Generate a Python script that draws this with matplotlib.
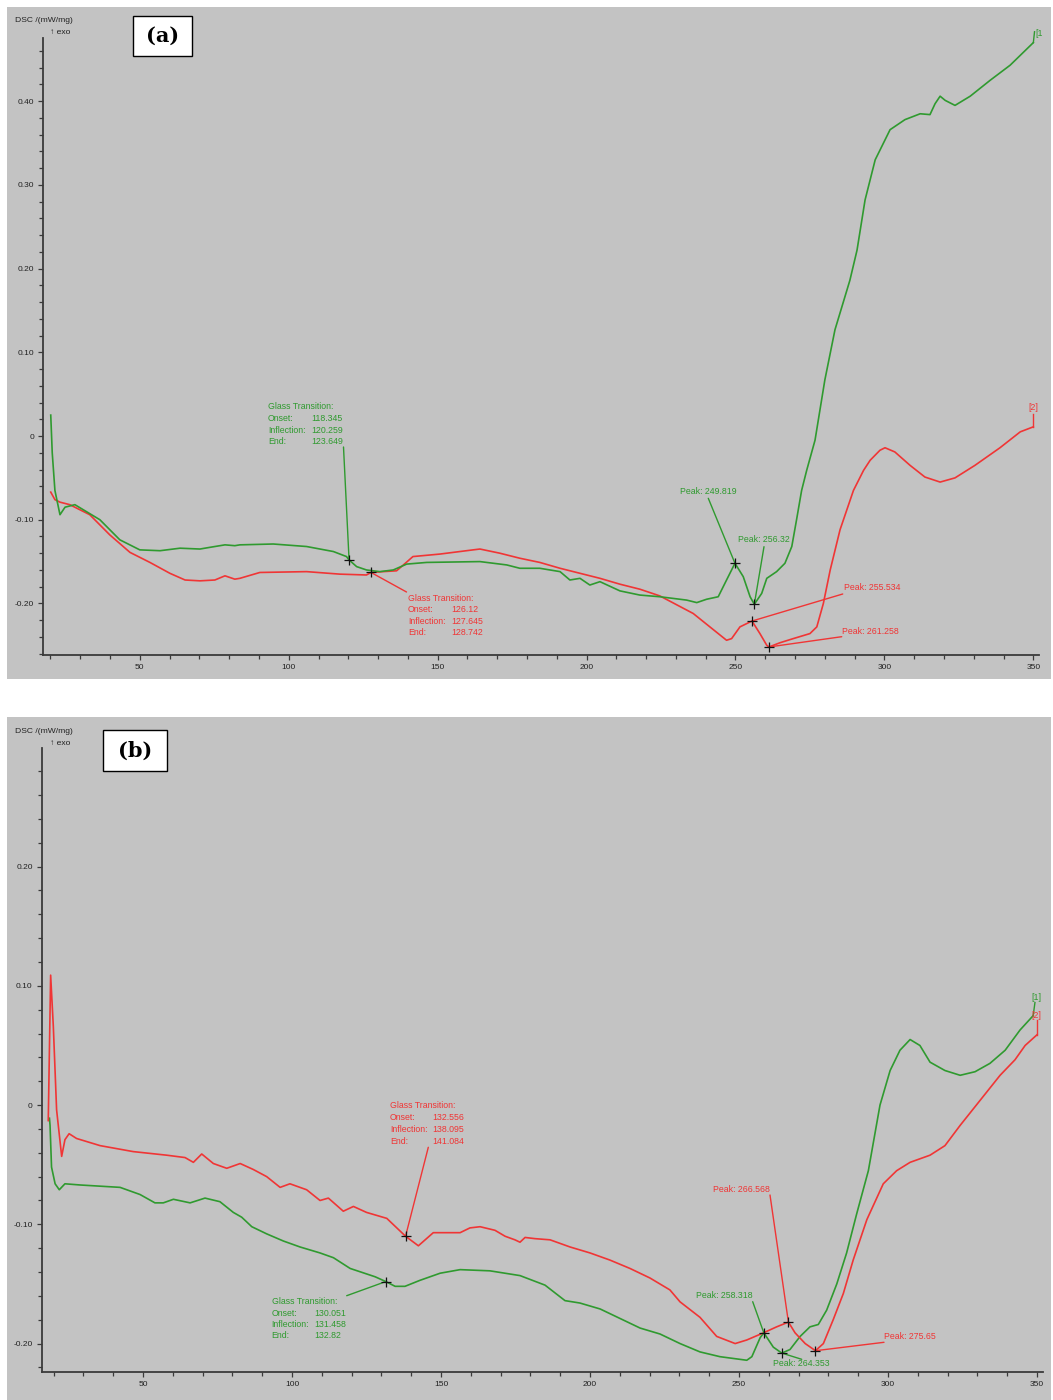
import numpy as np
import matplotlib
matplotlib.use("Agg")
import matplotlib.pyplot as plt
from matplotlib.patches import Rectangle
from matplotlib.transforms import IdentityTransform
from matplotlib.ticker import MultipleLocator, FuncFormatter

plt.rcParams['font.family'] = ['Liberation Sans', 'DejaVu Sans']

# ---------------- data: panel (a) ----------------
a_green_T = [20.1, 20.6, 21.5, 23.2, 24.9, 28.2, 36.6, 43.3, 50.0, 56.8, 63.5, 70.2,
             73.5, 78.6, 81.9, 83.6, 94.8, 106.0, 115.0, 119.4, 120.26, 122.8, 126.1,
             130.6, 135.1, 139.6, 146.3, 164.2, 173.2, 177.6, 184.3, 191.1, 194.4,
             197.8, 201.1, 204.5, 211.2, 217.9, 224.6, 233.6, 237.0, 240.3, 244.2,
             247.0, 249.82, 252.6, 254.9, 256.32, 258.8, 260.5, 263.8, 266.6, 268.9,
             270.5, 272.2, 273.9, 276.7, 280.0, 283.4, 288.4, 290.8, 293.5, 296.9,
             301.9, 306.9, 312.0, 315.3, 317.0, 318.7, 320.4, 323.7, 328.8, 335.5,
             342.2, 350.0]
a_green_dsc = [0.025, -0.020, -0.065, -0.094, -0.085, -0.082, -0.100, -0.124, -0.136,
               -0.137, -0.134, -0.135, -0.133, -0.130, -0.131, -0.130, -0.129, -0.132,
               -0.138, -0.144, -0.148, -0.156, -0.160, -0.162, -0.160, -0.153, -0.151,
               -0.150, -0.154, -0.158, -0.158, -0.162, -0.172, -0.170, -0.178, -0.174,
               -0.185, -0.190, -0.192, -0.196, -0.199, -0.195, -0.192, -0.172, -0.152,
               -0.168, -0.192, -0.201, -0.188, -0.170, -0.162, -0.152, -0.132, -0.100,
               -0.065, -0.041, -0.005, 0.067, 0.127, 0.186, 0.222, 0.282, 0.330, 0.366,
               0.378, 0.385, 0.384, 0.397, 0.406, 0.401, 0.395, 0.406, 0.425, 0.443,
               0.470]

a_red_T = [20.1, 21.5, 23.2, 26.5, 33.2, 39.9, 46.7, 53.4, 60.1, 65.2, 70.2, 75.2,
           78.6, 81.9, 83.6, 90.3, 106.0, 117.2, 126.1, 127.65, 131.7, 136.2, 138.5,
           141.7, 150.8, 161.9, 164.2, 170.9, 177.6, 184.3, 191.1, 197.8, 204.5, 211.2,
           217.9, 224.6, 235.8, 241.4, 247.0, 248.7, 251.5, 255.53, 258.2, 260.5,
           261.26, 264.9, 269.4, 275.0, 277.3, 279.5, 281.8, 285.1, 289.6, 293.0,
           295.2, 298.5, 300.2, 303.5, 308.6, 313.6, 318.7, 323.7, 330.4, 338.8,
           345.6, 350.0]
a_red_dsc = [-0.067, -0.076, -0.079, -0.082, -0.094, -0.118, -0.139, -0.151, -0.164,
             -0.172, -0.173, -0.172, -0.167, -0.171, -0.170, -0.163, -0.162, -0.165,
             -0.166, -0.163, -0.162, -0.161, -0.154, -0.144, -0.141, -0.136, -0.135,
             -0.140, -0.146, -0.151, -0.158, -0.164, -0.170, -0.177, -0.183, -0.191,
             -0.212, -0.228, -0.244, -0.242, -0.228, -0.221, -0.236, -0.250, -0.252,
             -0.247, -0.242, -0.236, -0.228, -0.200, -0.160, -0.112, -0.065, -0.041,
             -0.029, -0.017, -0.014, -0.019, -0.035, -0.049, -0.055, -0.050, -0.035,
             -0.014, 0.005, 0.011]

# ---------------- data: panel (b) ----------------
b_green_T = [18.6, 18.8, 19.3, 20.5, 21.9, 23.8, 28.9, 35.6, 42.3, 49.0, 54.0, 56.8,
             60.2, 65.8, 70.8, 75.8, 80.3, 83.1, 86.5, 91.5, 97.1, 102.7, 109.4, 113.9,
             119.5, 127.9, 131.46, 134.6, 137.9, 142.9, 149.7, 156.4, 166.4, 176.5,
             184.9, 191.6, 196.6, 203.4, 210.1, 216.8, 223.5, 230.2, 236.9, 243.6,
             252.6, 254.3, 257.1, 258.32, 261.5, 264.35, 267.1, 270.5, 273.8, 276.6,
             279.4, 282.8, 286.1, 289.5, 293.4, 297.3, 300.7, 304.0, 307.4, 310.7,
             314.1, 319.1, 324.2, 329.2, 334.2, 339.3, 344.3, 348.7]
b_green_dsc = [-0.011, -0.017, -0.052, -0.066, -0.071, -0.066, -0.067, -0.068, -0.069,
               -0.075, -0.082, -0.082, -0.079, -0.082, -0.078, -0.081, -0.090, -0.094,
               -0.102, -0.108, -0.114, -0.119, -0.124, -0.128, -0.137, -0.144, -0.148,
               -0.152, -0.152, -0.147, -0.141, -0.138, -0.139, -0.143, -0.151, -0.164,
               -0.166, -0.171, -0.179, -0.187, -0.192, -0.200, -0.207, -0.211, -0.214,
               -0.211, -0.195, -0.191, -0.203, -0.208, -0.205, -0.194, -0.186, -0.184,
               -0.172, -0.150, -0.124, -0.091, -0.055, 0.000, 0.029, 0.046, 0.055,
               0.050, 0.036, 0.029, 0.025, 0.028, 0.035, 0.046, 0.063, 0.075]

b_red_T = [18.2, 19.0, 19.9, 21.0, 22.7, 23.8, 25.2, 27.7, 35.6, 46.7, 57.9, 64.1,
           66.9, 69.7, 73.6, 78.1, 82.6, 87.0, 91.5, 96.0, 99.3, 104.9, 109.4, 112.2,
           117.2, 120.6, 125.0, 131.8, 138.1, 142.4, 147.4, 156.4, 159.7, 163.1, 168.1,
           171.5, 174.8, 176.5, 178.2, 181.5, 186.6, 193.3, 200.0, 206.7, 213.4, 220.1,
           226.8, 230.2, 236.9, 242.5, 248.7, 252.6, 258.2, 262.6, 266.57, 268.8,
           272.2, 275.65, 278.3, 281.6, 285.0, 288.3, 292.9, 298.4, 302.9, 307.4,
           314.1, 319.1, 324.2, 330.9, 337.6, 342.6, 346.0, 350.0]
b_red_dsc = [-0.013, 0.109, 0.066, -0.004, -0.043, -0.029, -0.024, -0.028, -0.034,
             -0.039, -0.042, -0.044, -0.048, -0.041, -0.049, -0.053, -0.049, -0.054,
             -0.060, -0.069, -0.066, -0.071, -0.080, -0.078, -0.089, -0.085, -0.090,
             -0.095, -0.110, -0.118, -0.107, -0.107, -0.103, -0.102, -0.105, -0.110,
             -0.113, -0.115, -0.111, -0.112, -0.113, -0.119, -0.124, -0.130, -0.137,
             -0.145, -0.155, -0.165, -0.178, -0.194, -0.200, -0.197, -0.191, -0.186,
             -0.182, -0.191, -0.200, -0.206, -0.200, -0.180, -0.158, -0.130, -0.096,
             -0.066, -0.055, -0.048, -0.042, -0.034, -0.017, 0.004, 0.025, 0.038,
             0.050, 0.059]

# characteristic temperatures from the evaluation
a_green_tg = ["118.345", "120.259", "123.649"]
a_red_tg = ["126.12", "127.645", "128.742"]
a_green_peaks = [249.819, 256.32]
a_red_peaks = [255.534, 261.258]
b_red_tg = ["132.556", "138.095", "141.084"]
b_green_tg = ["130.051", "131.458", "132.82"]
b_green_peaks = [258.318, 264.353]
b_red_peaks = [266.568, 275.65]
tg_labels = ["Glass Transition:", "Onset:", "Inflection:", "End:"]

# ---------------- styling ----------------
W, H = 1053, 1400
GRAY = '#c3c3c3'
GREEN = '#2f9a2f'
RED = '#f03535'
AXC = '#3a3a3a'
PIX = IdentityTransform()

fig = plt.figure(figsize=(W / 100, H / 100), dpi=100)


def fx(px):
    return px / W


def fy(py):
    return 1 - py / H


def make_panel(box, axbox, xlim, ylim, ymajor):
    x0, y0, x1, y1 = box
    fig.add_artist(Rectangle((fx(x0), fy(y1)), fx(x1) - fx(x0), fy(y0) - fy(y1),
                             transform=fig.transFigure, facecolor=GRAY,
                             edgecolor='none', zorder=-5))
    l, t, r, b = axbox
    ax = fig.add_axes([fx(l), fy(b), fx(r) - fx(l), fy(t) - fy(b)])
    ax.set_facecolor('none')
    ax.set_xlim(*xlim)
    ax.set_ylim(*ylim)
    for s in ('top', 'right'):
        ax.spines[s].set_visible(False)
    for s in ('left', 'bottom'):
        ax.spines[s].set_color(AXC)
        ax.spines[s].set_linewidth(1.3)
    ax.xaxis.set_major_locator(MultipleLocator(50))
    ax.xaxis.set_minor_locator(MultipleLocator(10))
    ax.yaxis.set_major_locator(MultipleLocator(ymajor))
    ax.yaxis.set_minor_locator(MultipleLocator(0.02))
    ax.yaxis.set_major_formatter(FuncFormatter(
        lambda v, _: '0' if abs(v) < 1e-9 else f'{v:.2f}'))
    ax.tick_params(which='major', direction='out', length=3.5, width=0.9,
                   color=AXC, labelsize=6, labelcolor='#222222', pad=3)
    ax.tick_params(which='minor', direction='out', length=3, width=0.9, color=AXC)
    return ax


def curve(ax, T, v, color):
    ax.plot(T, v, color=color, lw=1.2, solid_joinstyle='round', zorder=3)


def marker(ax, T, v, x):
    y = np.interp(x, T, v)
    ax.plot([x], [y], marker='+', color='#111111', ms=6.5, mew=0.9, zorder=5)
    return x, y


def leader(ax, xy, px, py, color):
    ax.annotate('', xy=xy, xycoords='data', xytext=(px, H - py), textcoords=PIX,
                arrowprops=dict(arrowstyle='-', color=color, lw=1.0,
                                shrinkA=0, shrinkB=0), zorder=4)


def tg_block(ax, px, py, vals, color, valdx, dy):
    for i, lab in enumerate(tg_labels):
        yy = H - (py + i * dy)
        ax.text(px, yy, lab, transform=PIX, color=color, fontsize=6.3,
                va='center', ha='left')
        if i > 0:
            ax.text(px + valdx, yy, vals[i - 1], transform=PIX, color=color,
                    fontsize=6.3, va='center', ha='left')


def ptext(ax, px, py, val, color):
    ax.text(px, H - py, f'Peak: {val:g}', transform=PIX, color=color,
            fontsize=6.3, va='center', ha='left')


def header(px_y, box):
    fig.text(fx(15), fy(px_y), 'DSC /(mW/mg)', fontsize=6.1, color='#222222',
             va='center', ha='left')
    fig.text(fx(50), fy(px_y + 12), '\u2191 exo', fontsize=6.1, color='#222222',
             va='center', ha='left')
    x0, y0, x1, y1 = box
    fig.add_artist(Rectangle((fx(x0), fy(y1)), fx(x1) - fx(x0), fy(y0) - fy(y1),
                             transform=fig.transFigure, facecolor='white',
                             edgecolor='black', lw=1.0, zorder=6))


# ================= panel (a) =================
axa = make_panel((7, 7, 1051, 679), (43, 37.6, 1039.3, 654.5),
                 (17.5, 352.0), (-0.261, 0.476), 0.1)
curve(axa, a_red_T, a_red_dsc, RED)
curve(axa, a_green_T, a_green_dsc, GREEN)

g_tg = marker(axa, a_green_T, a_green_dsc, float(a_green_tg[1]))
r_tg = marker(axa, a_red_T, a_red_dsc, float(a_red_tg[1]))
tg_block(axa, 268, 406.7, a_green_tg, GREEN, 43, 11.7)
leader(axa, g_tg, 343.5, 447, GREEN)
tg_block(axa, 408, 598.7, a_red_tg, RED, 43, 11.3)
leader(axa, r_tg, 406.5, 592, RED)

gp1 = marker(axa, a_green_T, a_green_dsc, a_green_peaks[0])
gp2 = marker(axa, a_green_T, a_green_dsc, a_green_peaks[1])
rp1 = marker(axa, a_red_T, a_red_dsc, a_red_peaks[0])
rp2 = marker(axa, a_red_T, a_red_dsc, a_red_peaks[1])
ptext(axa, 680, 491.7, a_green_peaks[0], GREEN)
leader(axa, gp1, 708.3, 498.3, GREEN)
ptext(axa, 737.7, 540, a_green_peaks[1], GREEN)
leader(axa, gp2, 764, 546.7, GREEN)
ptext(axa, 844.3, 587.3, a_red_peaks[0], RED)
leader(axa, rp1, 842.7, 594, RED)
ptext(axa, 842, 631.7, a_red_peaks[1], RED)
leader(axa, rp2, 841.7, 636.7, RED)

# curve identifiers
axa.plot([a_green_T[-1], a_green_T[-1] + 0.4], [a_green_dsc[-1], 0.483],
         color=GREEN, lw=1.0, clip_on=False)
axa.text(1035, H - 33, '[1', transform=PIX, color=GREEN, fontsize=6.3,
         va='center', ha='left')
axa.plot([a_red_T[-1], a_red_T[-1]], [a_red_dsc[-1], 0.026], color=RED, lw=1.0)
axa.text(1028, H - 407, '[2]', transform=PIX, color=RED, fontsize=6.3,
         va='center', ha='left')

header(20.7, (133.3, 15.7, 192.3, 56))
fig.text(fx(162.8), fy(35.8), '(a)', fontsize=15, fontweight='bold',
         family='DejaVu Serif', ha='center', va='center', zorder=7)

# ================= panel (b) =================
axb = make_panel((7, 717, 1051, 1400), (41.7, 748, 1043, 1371.7),
                 (16.0, 352.0), (-0.2236, 0.2995), 0.1)
curve(axb, b_green_T, b_green_dsc, GREEN)
curve(axb, b_red_T, b_red_dsc, RED)

r_tg = marker(axb, b_red_T, b_red_dsc, float(b_red_tg[1]))
g_tg = marker(axb, b_green_T, b_green_dsc, float(b_green_tg[1]))
tg_block(axb, 390, 1106, b_red_tg, RED, 42.7, 11.9)
leader(axb, r_tg, 428.3, 1147.3, RED)
tg_block(axb, 271.7, 1301.7, b_green_tg, GREEN, 42.3, 11.3)
leader(axb, g_tg, 346.7, 1295.7, GREEN)

gp1 = marker(axb, b_green_T, b_green_dsc, b_green_peaks[0])
gp2 = marker(axb, b_green_T, b_green_dsc, b_green_peaks[1])
rp1 = marker(axb, b_red_T, b_red_dsc, b_red_peaks[0])
rp2 = marker(axb, b_red_T, b_red_dsc, b_red_peaks[1])
ptext(axb, 713.3, 1189, b_red_peaks[0], RED)
leader(axb, rp1, 770, 1195, RED)
ptext(axb, 695.7, 1295.7, b_green_peaks[0], GREEN)
leader(axb, gp1, 752.7, 1301.7, GREEN)
ptext(axb, 773.3, 1363.3, b_green_peaks[1], GREEN)
leader(axb, gp2, 801.7, 1359.3, GREEN)
ptext(axb, 884.3, 1336.7, b_red_peaks[1], RED)
leader(axb, rp2, 884, 1342.3, RED)

axb.plot([b_green_T[-1], b_green_T[-1] + 0.6], [b_green_dsc[-1], 0.086],
         color=GREEN, lw=1.0)
axb.text(1031, H - 997, '[1]', transform=PIX, color=GREEN, fontsize=6.3,
         va='center', ha='left')
axb.plot([b_red_T[-1], b_red_T[-1]], [b_red_dsc[-1], 0.071], color=RED, lw=1.0)
axb.text(1031, H - 1015, '[2]', transform=PIX, color=RED, fontsize=6.3,
         va='center', ha='left')

header(731.7, (103.3, 730, 166.7, 770.7))
fig.text(fx(135), fy(750.3), '(b)', fontsize=15, fontweight='bold',
         family='DejaVu Serif', ha='center', va='center', zorder=7)

fig.savefig('out.png', dpi=100)
